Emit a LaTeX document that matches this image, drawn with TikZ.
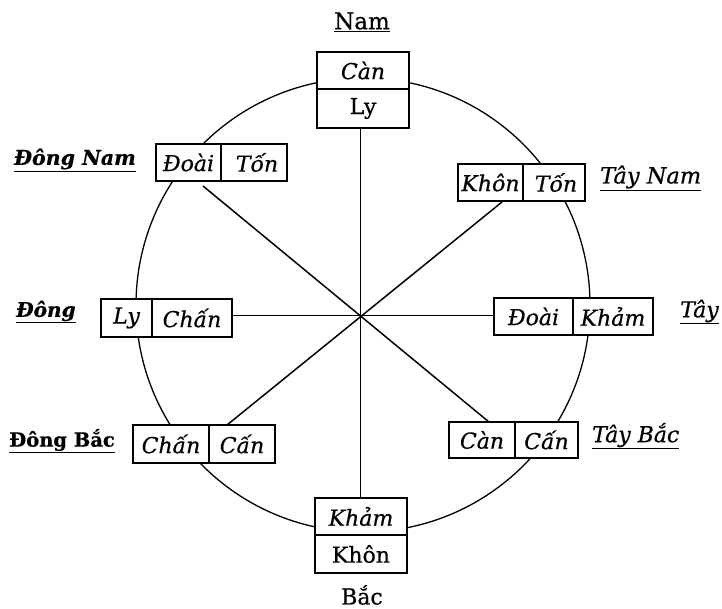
\documentclass[tikz,border=0pt]{standalone}
\usepackage{fontspec}
\setmainfont{DejaVu Serif}[FakeBold=0.6]
\begin{document}
\begin{tikzpicture}[x=1pt,y=-1pt,
  cell/.style={draw, line width=1.3pt, inner sep=0pt, minimum height=37pt, fill=white, font=\fontsize{22}{24}\selectfont\itshape},
  upcell/.style={cell, font=\fontsize{22}{24}\selectfont},
  lbl/.style={inner sep=0pt, font=\fontsize{23}{26}\selectfont},
  ring/.style={line width=1.3pt},
  spoke/.style={line width=1.5pt},
  axis/.style={line width=1pt}]
\useasboundingbox (0,0) rectangle (722,609);
\coordinate (c) at (360,315);
\coordinate (ctr) at (363,305);
\draw[ring] (ctr) circle[radius=227];
% diagonal ends
\coordinate (nwEnd) at (203,186);
\coordinate (seEnd) at (489,422);
\coordinate (neEnd) at (502,202);
\coordinate (swEnd) at (227,425);
% boxes
\node[cell, minimum width=92pt] (nCan) at (363,70.5) {Càn};
\node[upcell, minimum width=92pt, minimum height=39pt] (nLy) at (363,108.5) {Ly};
\node[cell, minimum width=65pt] (nwDoai) at (188.5,162.5) {Đoài};
\node[cell, minimum width=66pt] (nwTon) at (254,162.5) {\hspace*{6pt}Tốn};
\node[cell, minimum width=65pt] (neKhon) at (490.5,182.5) {Khôn};
\node[cell, minimum width=62pt] (neTon) at (554,182.5) {\hspace*{4pt}Tốn};
\node[cell, minimum width=51pt, minimum height=38pt] (wLy) at (126.5,318) {Ly};
\node[cell, minimum width=80pt, minimum height=38pt] (wChan) at (192,318) {Chấn};
\node[cell, minimum width=79pt] (eDoai) at (533.5,316.5) {Đoài};
\node[cell, minimum width=80pt] (eKham) at (613,316.5) {Khảm};
\node[cell, minimum width=76pt, minimum height=38pt] (swChan) at (171,444) {Chấn};
\node[cell, minimum width=66pt, minimum height=38pt] (swCan) at (242,444) {Cấn};
\node[cell, minimum width=66pt, minimum height=36pt] (seCan) at (482,440) {Càn};
\node[cell, minimum width=63pt, minimum height=36pt] (seCaan) at (546.5,440) {Cấn};
\node[cell, minimum width=92pt] (sKham) at (361,516.5) {Khảm};
\node[upcell, minimum width=92pt, minimum height=38pt] (sKhon) at (361,554) {Khôn};
% spokes
\draw[axis] (c |- nLy.south) -- (c |- sKham.north);
\draw[axis] (wChan.east |- c) -- (eDoai.west |- c);
\draw[spoke] (nwEnd) -- (seEnd);
\draw[spoke] (neEnd) -- (swEnd);
% labels
\node[lbl] (lN) at (362,22) {\underline{Nam}};
\node[lbl, anchor=east, font=\fontsize{20.5}{24}\selectfont\bfseries\itshape] (lNW) at (136,160) {\underline{Đông Nam}};
\node[lbl, anchor=west, font=\fontsize{22.5}{24}\selectfont\itshape] (lNE) at (600,178) {\underline{Tây Nam}};
\node[lbl, anchor=west, font=\fontsize{20}{24}\selectfont\bfseries\itshape] (lW) at (16,312) {\underline{Đông}};
\node[lbl, anchor=west, font=\fontsize{22}{24}\selectfont\itshape] (lE) at (680,312) {\underline{Tây}};
\node[lbl, anchor=west, font=\fontsize{19.5}{24}\selectfont\bfseries] (lSW) at (9,441) {\underline{Đông Bắc}};
\node[lbl, anchor=west, font=\fontsize{22}{24}\selectfont\itshape] (lSE) at (592,436) {\underline{Tây Bắc}};
\node[lbl, anchor=south, font=\fontsize{22}{24}\selectfont] (lS) at (362,605) {Bắc};
\end{tikzpicture}
\end{document}
